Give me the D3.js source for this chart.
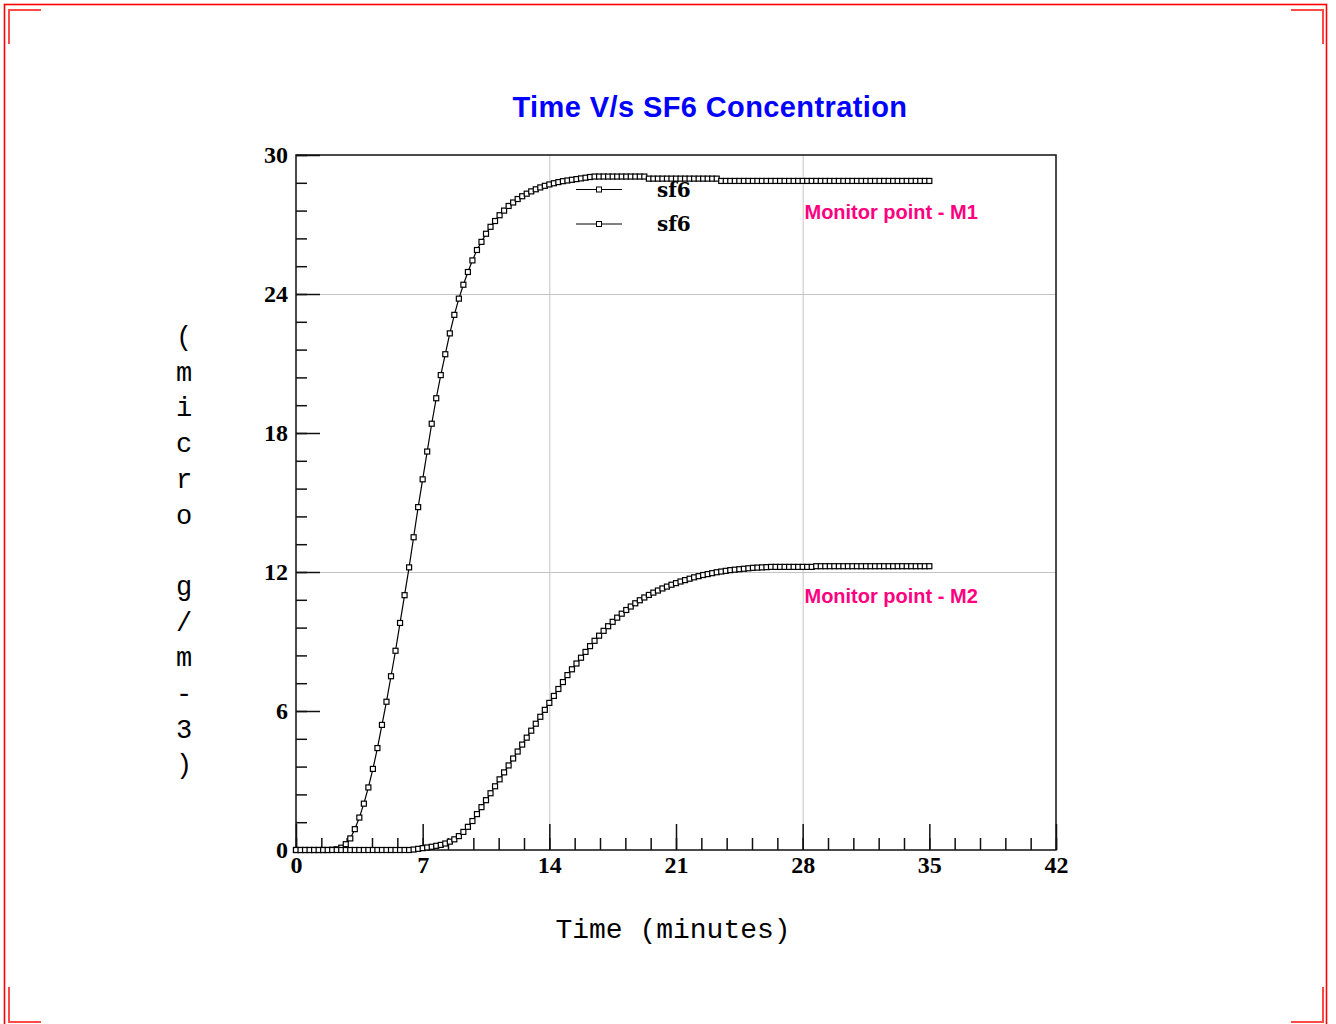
<!DOCTYPE html>
<html>
<head>
<meta charset="utf-8">
<script src="https://cdn.jsdelivr.net/npm/d3@7"></script>
<style>
  body { margin: 0; background: #fff; }
</style>
</head>
<body>
<div class="chart"></div>
<script>
// sample times (minutes)
var times = [
  0,0.25,0.5,0.75,1,1.25,1.5,1.75,
  2,2.25,2.5,2.75,3,3.25,3.5,3.75,
  4,4.25,4.5,4.75,5,5.25,5.5,5.75,
  6,6.25,6.5,6.75,7,7.25,7.5,7.75,
  8,8.25,8.5,8.75,9,9.25,9.5,9.75,
  10,10.25,10.5,10.75,11,11.25,11.5,11.75,
  12,12.25,12.5,12.75,13,13.25,13.5,13.75,
  14,14.25,14.5,14.75,15,15.25,15.5,15.75,
  16,16.25,16.5,16.75,17,17.25,17.5,17.75,
  18,18.25,18.5,18.75,19,19.25,19.5,19.75,
  20,20.25,20.5,20.75,21,21.25,21.5,21.75,
  22,22.25,22.5,22.75,23,23.25,23.5,23.75,
  24,24.25,24.5,24.75,25,25.25,25.5,25.75,
  26,26.25,26.5,26.75,27,27.25,27.5,27.75,
  28,28.25,28.5,28.75,29,29.25,29.5,29.75,
  30,30.25,30.5,30.75,31,31.25,31.5,31.75,
  32,32.25,32.5,32.75,33,33.25,33.5,33.75,
  34,34.25,34.5,34.75,35
];

// SF6 at monitor point M1 (micro g/m-3)
var m1 = [
  0,0,0,0,0,0,0,0,
  0.01,0.03,0.1,0.25,0.5,0.9,1.4,2.0,
  2.7,3.5,4.4,5.4,6.4,7.5,8.6,9.8,
  11.0,12.2,13.5,14.8,16.0,17.2,18.4,19.5,
  20.5,21.4,22.3,23.1,23.8,24.4,24.95,25.45,
  25.9,26.25,26.6,26.9,27.15,27.4,27.6,27.8,
  27.95,28.1,28.22,28.33,28.43,28.52,28.6,28.67,
  28.73,28.78,28.83,28.87,28.9,28.93,28.96,28.99,
  29.02,29.05,29.07,29.07,29.07,29.07,29.07,29.07,
  29.07,29.07,29.07,29.07,29.07,29.07,28.98,28.98,
  28.98,28.98,28.98,28.98,28.98,28.98,28.98,28.98,
  28.98,28.98,28.98,28.98,28.98,28.98,28.88,28.88,
  28.88,28.88,28.88,28.88,28.88,28.88,28.88,28.88,
  28.88,28.88,28.88,28.88,28.88,28.88,28.88,28.88,
  28.88,28.88,28.88,28.88,28.88,28.88,28.88,28.88,
  28.88,28.88,28.88,28.88,28.88,28.88,28.88,28.88,
  28.88,28.88,28.88,28.88,28.88,28.88,28.88,28.88,
  28.88,28.88,28.88,28.88,28.88
];

// SF6 at monitor point M2 (micro g/m-3)
var m2 = [
  0,0,0,0,0,0,0,0,
  0,0,0,0,0,0,0,0,
  0,0,0,0,0,0,0,0,
  0,0,0.02,0.05,0.08,0.11,0.14,0.18,
  0.22,0.28,0.36,0.46,0.6,0.78,1.0,1.25,
  1.55,1.85,2.15,2.45,2.75,3.05,3.35,3.65,
  3.95,4.25,4.55,4.85,5.15,5.45,5.75,6.05,
  6.35,6.65,6.95,7.25,7.55,7.8,8.05,8.3,
  8.55,8.8,9.03,9.25,9.46,9.66,9.85,10.03,
  10.2,10.36,10.51,10.65,10.78,10.9,11.01,11.11,
  11.2,11.29,11.37,11.45,11.52,11.59,11.65,11.71,
  11.77,11.82,11.87,11.91,11.95,11.99,12.02,12.05,
  12.08,12.1,12.12,12.14,12.16,12.18,12.19,12.2,
  12.21,12.22,12.22,12.22,12.22,12.22,12.22,12.22,
  12.22,12.22,12.22,12.25,12.25,12.25,12.25,12.25,
  12.25,12.25,12.25,12.25,12.25,12.25,12.25,12.25,
  12.25,12.25,12.25,12.25,12.25,12.25,12.25,12.25,
  12.25,12.25,12.25,12.25,12.25
];

var xTicks = [0, 7, 14, 21, 28, 35, 42];
var yTicks = [0, 6, 12, 18, 24, 30];
var xGrid = [14, 28];
var yGrid = [12, 24];
var legendNames = ['sf6', 'sf6'];
var monitorLabels = [
  {text: 'Monitor point - M1', t: 28.1, v: 27.25},
  {text: 'Monitor point - M2', t: 28.1, v: 10.68}
];

var width = 1336;
var height = 1024;
var plot = {left: 296, top: 155, right: 1056, bottom: 850};

var svg = d3.select('div.chart').append('svg')
    .attr('width', width)
    .attr('height', height)
    .style('display', 'block')

// red page frame + corner marks
svg.append('rect')
    .attr('x', 4.5).attr('y', 4.5)
    .attr('width', 1322).attr('height', 1040)
    .attr('fill', 'none')
    .attr('stroke', '#ff0000')
    .attr('stroke-width', 1.6)
var corners = [
  'M9,44 V10 H41', 'M1291,10 H1323 V44',
  'M9,987 V1022 H41', 'M1291,1022 H1323 V987'
]
svg.selectAll('path.corner')
    .data(corners)
    .enter()
    .append('path')
    .attr('class', 'corner')
    .attr('d', function(d){return d})
    .attr('fill', 'none')
    .attr('stroke', '#ff4a4a')
    .attr('stroke-width', 2)

var x_scale = d3.scaleLinear().domain([0, 42]).range([plot.left, plot.right])
var y_scale = d3.scaleLinear().domain([0, 30]).range([plot.bottom, plot.top])

// title
svg.append('text')
    .attr('x', 710)
    .attr('y', 117)
    .attr('text-anchor', 'middle')
    .style('font-family', '"Liberation Sans", Arial, sans-serif')
    .style('font-weight', 'bold')
    .style('font-size', '29px')
    .style('letter-spacing', '0.4px')
    .attr('fill', '#0000ff')
    .text('Time V/s SF6 Concentration')

// grid
svg.append('g').selectAll('line')
    .data(yGrid)
    .enter()
    .append('line')
    .attr('x1', plot.left).attr('x2', plot.right)
    .attr('y1', function(d){return y_scale(d) + 0.5})
    .attr('y2', function(d){return y_scale(d) + 0.5})
    .attr('stroke', '#c4c4c4')
svg.append('g').selectAll('line')
    .data(xGrid)
    .enter()
    .append('line')
    .attr('y1', plot.top).attr('y2', plot.bottom)
    .attr('x1', function(d){return x_scale(d) + 0.5})
    .attr('x2', function(d){return x_scale(d) + 0.5})
    .attr('stroke', '#c4c4c4')

// ticks (inside) - minor every 1/5 of a major step
var yMinor = d3.range(0, 30.001, 1.2)
var xMinor = d3.range(0, 42.001, 1.4)

function axisStyle(g){
    g.select('.domain').remove()
    g.selectAll('line').attr('stroke', '#111').attr('stroke-width', 1.5)
}
svg.append('g')
    .attr('transform', 'translate(' + plot.left + ',0)')
    .call(d3.axisRight(y_scale).tickValues(yMinor).tickSize(11).tickFormat(''))
    .call(axisStyle)
svg.append('g')
    .attr('transform', 'translate(' + plot.left + ',0)')
    .call(d3.axisRight(y_scale).tickValues(yTicks).tickSize(24).tickFormat(''))
    .call(axisStyle)
svg.append('g')
    .attr('transform', 'translate(0,' + plot.bottom + ')')
    .call(d3.axisTop(x_scale).tickValues(xMinor).tickSize(12).tickFormat(''))
    .call(axisStyle)
svg.append('g')
    .attr('transform', 'translate(0,' + plot.bottom + ')')
    .call(d3.axisTop(x_scale).tickValues(xTicks).tickSize(26).tickFormat(''))
    .call(axisStyle)

// frame
svg.append('rect')
    .attr('x', plot.left).attr('y', plot.top)
    .attr('width', plot.right - plot.left)
    .attr('height', plot.bottom - plot.top)
    .attr('fill', 'none')
    .attr('stroke', '#111')
    .attr('stroke-width', 1.5)

// tick labels
var labelFont = '"Liberation Serif", "Times New Roman", serif'
var yLab = svg.append('g')
    .attr('transform', 'translate(' + plot.left + ',0)')
    .call(d3.axisLeft(y_scale).tickValues(yTicks).tickSize(0).tickPadding(8))
yLab.select('.domain').remove()
yLab.selectAll('text')
    .style('font-family', labelFont)
    .style('font-weight', 'bold')
    .style('font-size', '24px')
    .attr('fill', '#000')
var xLab = svg.append('g')
    .attr('transform', 'translate(0,' + plot.bottom + ')')
    .call(d3.axisBottom(x_scale).tickValues(xTicks).tickSize(0).tickPadding(6))
xLab.select('.domain').remove()
xLab.selectAll('text')
    .style('font-family', labelFont)
    .style('font-weight', 'bold')
    .style('font-size', '24px')
    .attr('fill', '#000')

// axis titles (monospace)
var mono = '"Liberation Mono", "Courier New", monospace'
svg.append('text')
    .attr('x', 673)
    .attr('y', 938)
    .attr('text-anchor', 'middle')
    .style('font-family', mono)
    .style('font-size', '28px')
    .style('white-space', 'pre')
    .attr('fill', '#000')
    .text('Time (minutes)')
var yTitle = '(micro g/m-3)'.split('')
svg.append('g').selectAll('text')
    .data(yTitle)
    .enter()
    .append('text')
    .attr('x', 184)
    .attr('y', function(d, i){return 345 + i * 35.7})
    .attr('text-anchor', 'middle')
    .style('font-family', mono)
    .style('font-size', '27px')
    .attr('fill', '#000')
    .text(function(d){return d})

// series
var line = d3.line()
    .x(function(d){return x_scale(d.t)})
    .y(function(d){return y_scale(d.v)})
var series = [m1, m2].map(function(vals){
    return vals.map(function(v, i){return {t: times[i], v: v}})
})
series.forEach(function(pts){
    var g = svg.append('g')
    g.append('path')
        .datum(pts)
        .attr('d', line)
        .attr('fill', 'none')
        .attr('stroke', '#000')
        .attr('stroke-width', 1.2)
    g.selectAll('rect')
        .data(pts)
        .enter()
        .append('rect')
        .attr('x', function(d){return x_scale(d.t) - 2.5})
        .attr('y', function(d){return y_scale(d.v) - 2.5})
        .attr('width', 5)
        .attr('height', 5)
        .attr('fill', '#fff')
        .attr('stroke', '#000')
        .attr('stroke-width', 1.2)
})

// legend
var legend = svg.append('g').selectAll('g')
    .data(legendNames)
    .enter()
    .append('g')
    .attr('transform', function(d, i){return 'translate(576,' + (189.5 + i * 34.5) + ')'})
legend.append('line')
    .attr('x1', 0).attr('x2', 46)
    .attr('stroke', '#000')
legend.append('rect')
    .attr('x', 20.5).attr('y', -2.5)
    .attr('width', 5).attr('height', 5)
    .attr('fill', '#fff')
    .attr('stroke', '#000')
legend.append('text')
    .attr('x', 81)
    .attr('y', 7)
    .style('font-family', '"DejaVu Serif", serif')
    .style('font-weight', 'bold')
    .style('font-size', '20px')
    .attr('fill', '#000')
    .text(function(d){return d})

// monitor point labels
svg.append('g').selectAll('text')
    .data(monitorLabels)
    .enter()
    .append('text')
    .attr('x', function(d){return x_scale(d.t)})
    .attr('y', function(d){return y_scale(d.v)})
    .style('font-family', '"Liberation Sans", Arial, sans-serif')
    .style('font-weight', 'bold')
    .style('font-size', '20px')
    .attr('fill', '#ff0080')
    .text(function(d){return d.text})
</script>
</body>
</html>
